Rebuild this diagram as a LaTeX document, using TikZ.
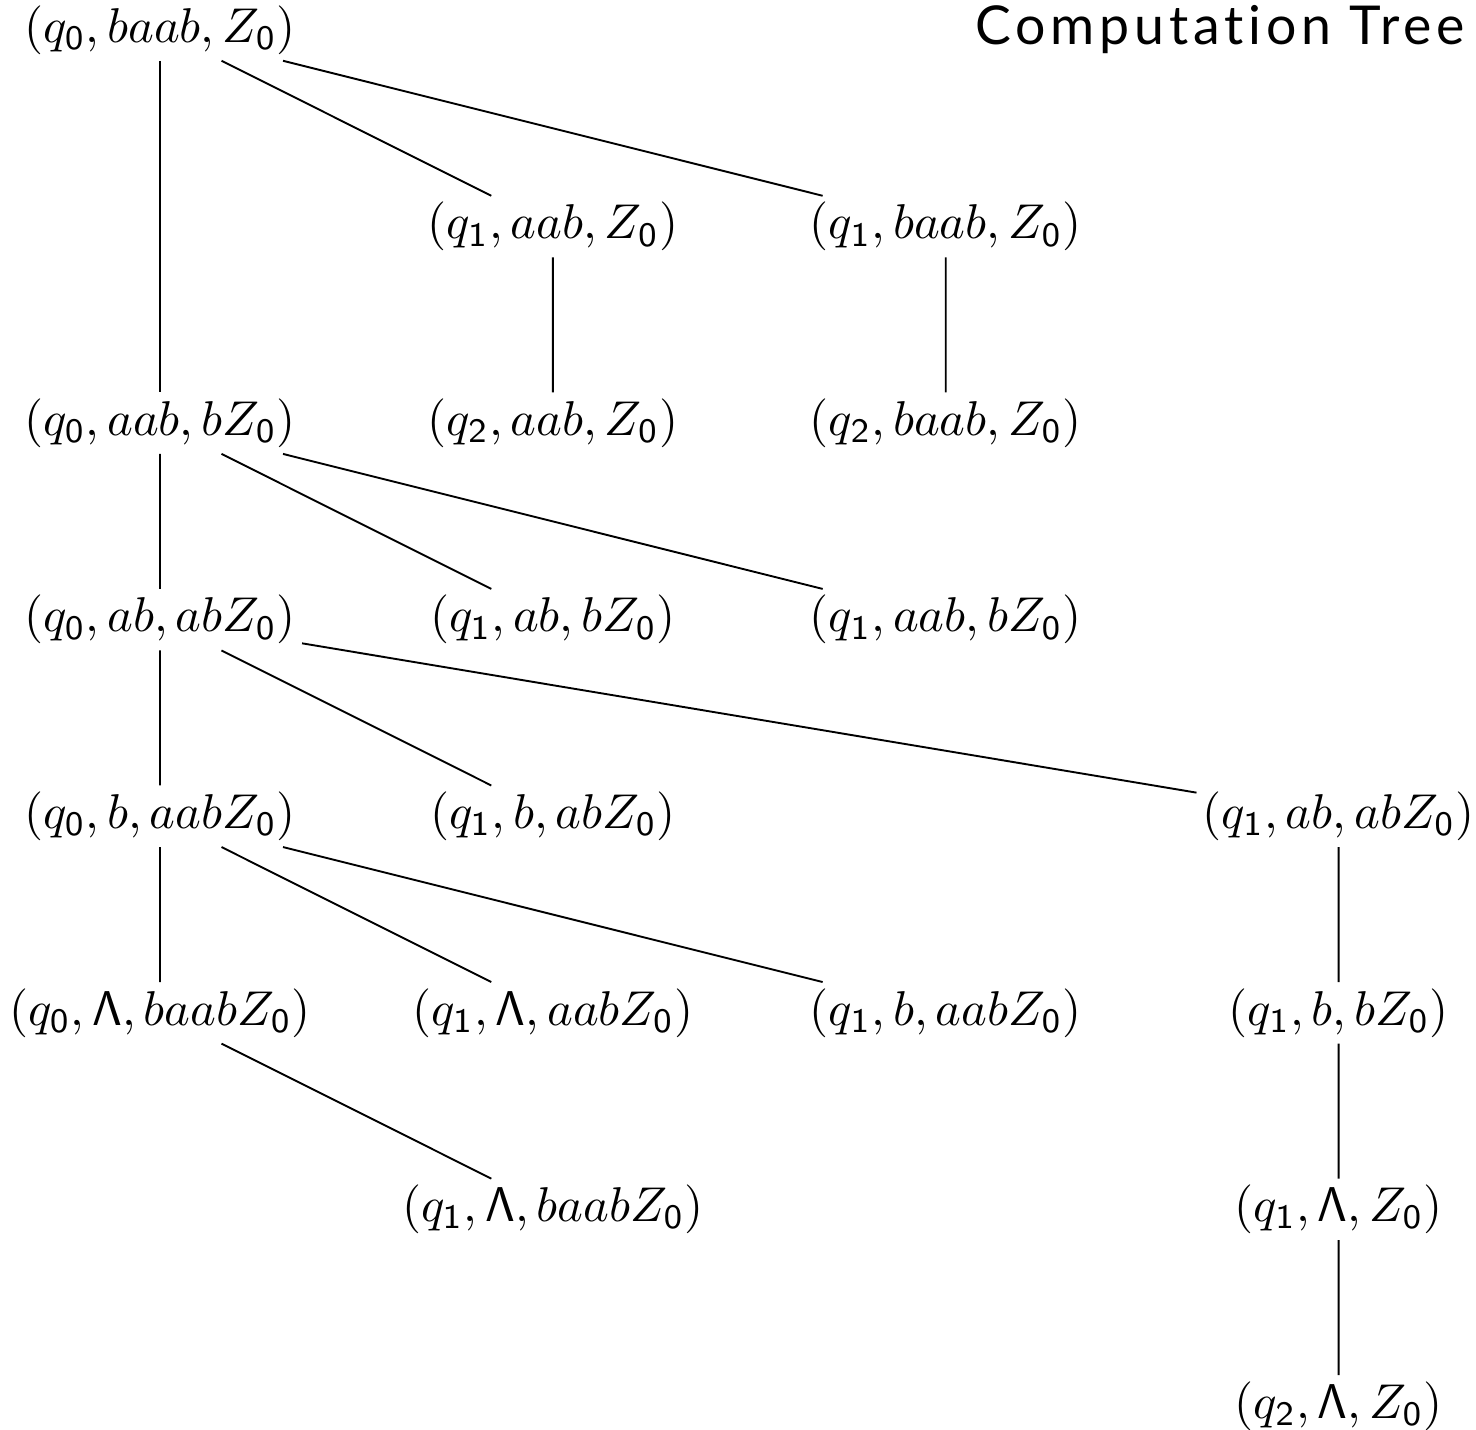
\documentclass[tikz,border=0pt]{standalone}
\usepackage[no-math]{fontspec}
\usepackage{tikz}
\newfontfamily\titlefont[LetterSpace=9,Ligatures=NoCommon]{Lato}
\newcommand{\qs}[1]{q_{\mathsf{#1}}}
\newcommand{\zo}{Z_{\mathsf{0}}}
\newcommand{\lam}{\mathsf{\Lambda}}
\tikzset{cfg/.style={inner sep=1.1pt, scale=1.03}}

\begin{document}
\begin{tikzpicture}[x=2.91cm, y=-1.456cm]
\useasboundingbox (-1.185cm,0.222cm) rectangle (9.748cm,-10.37cm);
% Title
\node[anchor=base east, inner sep=0pt, font=\titlefont\fontsize{11.3}{13}\selectfont] (title) at (9.674cm,-0.111cm) {Computation Tree};

% Configurations
\node[cfg] (r0c0) at (0,0) {$(\qs0, baab, \zo)$};
\node[cfg] (r1c1) at (1,1) {$(\qs1, aab, \zo)$};
\node[cfg] (r1c2) at (2,1) {$(\qs1, baab, \zo)$};
\node[cfg] (r2c0) at (0,2) {$(\qs0, aab, b\zo)$};
\node[cfg] (r2c1) at (1,2) {$(\qs2, aab, \zo)$};
\node[cfg] (r2c2) at (2,2) {$(\qs2, baab, \zo)$};
\node[cfg] (r3c0) at (0,3) {$(\qs0, ab, ab\zo)$};
\node[cfg] (r3c1) at (1,3) {$(\qs1, ab, b\zo)$};
\node[cfg] (r3c2) at (2,3) {$(\qs1, aab, b\zo)$};
\node[cfg] (r4c0) at (0,4) {$(\qs0, b, aab\zo)$};
\node[cfg] (r4c1) at (1,4) {$(\qs1, b, ab\zo)$};
\node[cfg] (r4c3) at (3,4) {$(\qs1, ab, ab\zo)$};
\node[cfg] (r5c0) at (0,5) {$(\qs0, \lam, baab\zo)$};
\node[cfg] (r5c1) at (1,5) {$(\qs1, \lam, aab\zo)$};
\node[cfg] (r5c2) at (2,5) {$(\qs1, b, aab\zo)$};
\node[cfg] (r5c3) at (3,5) {$(\qs1, b, b\zo)$};
\node[cfg] (r6c1) at (1,6) {$(\qs1, \lam, baab\zo)$};
\node[cfg] (r6c3) at (3,6) {$(\qs1, \lam, \zo)$};
\node[cfg] (r7c3) at (3,7) {$(\qs2, \lam, \zo)$};

% Moves
\draw (r0c0) -- (r2c0);
\draw (r0c0) -- (r1c1);
\draw (r0c0) -- (r1c2);
\draw (r1c1) -- (r2c1);
\draw (r1c2) -- (r2c2);
\draw (r2c0) -- (r3c0);
\draw (r2c0) -- (r3c1);
\draw (r2c0) -- (r3c2);
\draw (r3c0) -- (r4c0);
\draw (r3c0) -- (r4c1);
\draw (r3c0) -- (r4c3);
\draw (r4c0) -- (r5c0);
\draw (r4c0) -- (r5c1);
\draw (r4c0) -- (r5c2);
\draw (r5c0) -- (r6c1);
\draw (r4c3) -- (r5c3);
\draw (r5c3) -- (r6c3);
\draw (r6c3) -- (r7c3);
\end{tikzpicture}
\end{document}
